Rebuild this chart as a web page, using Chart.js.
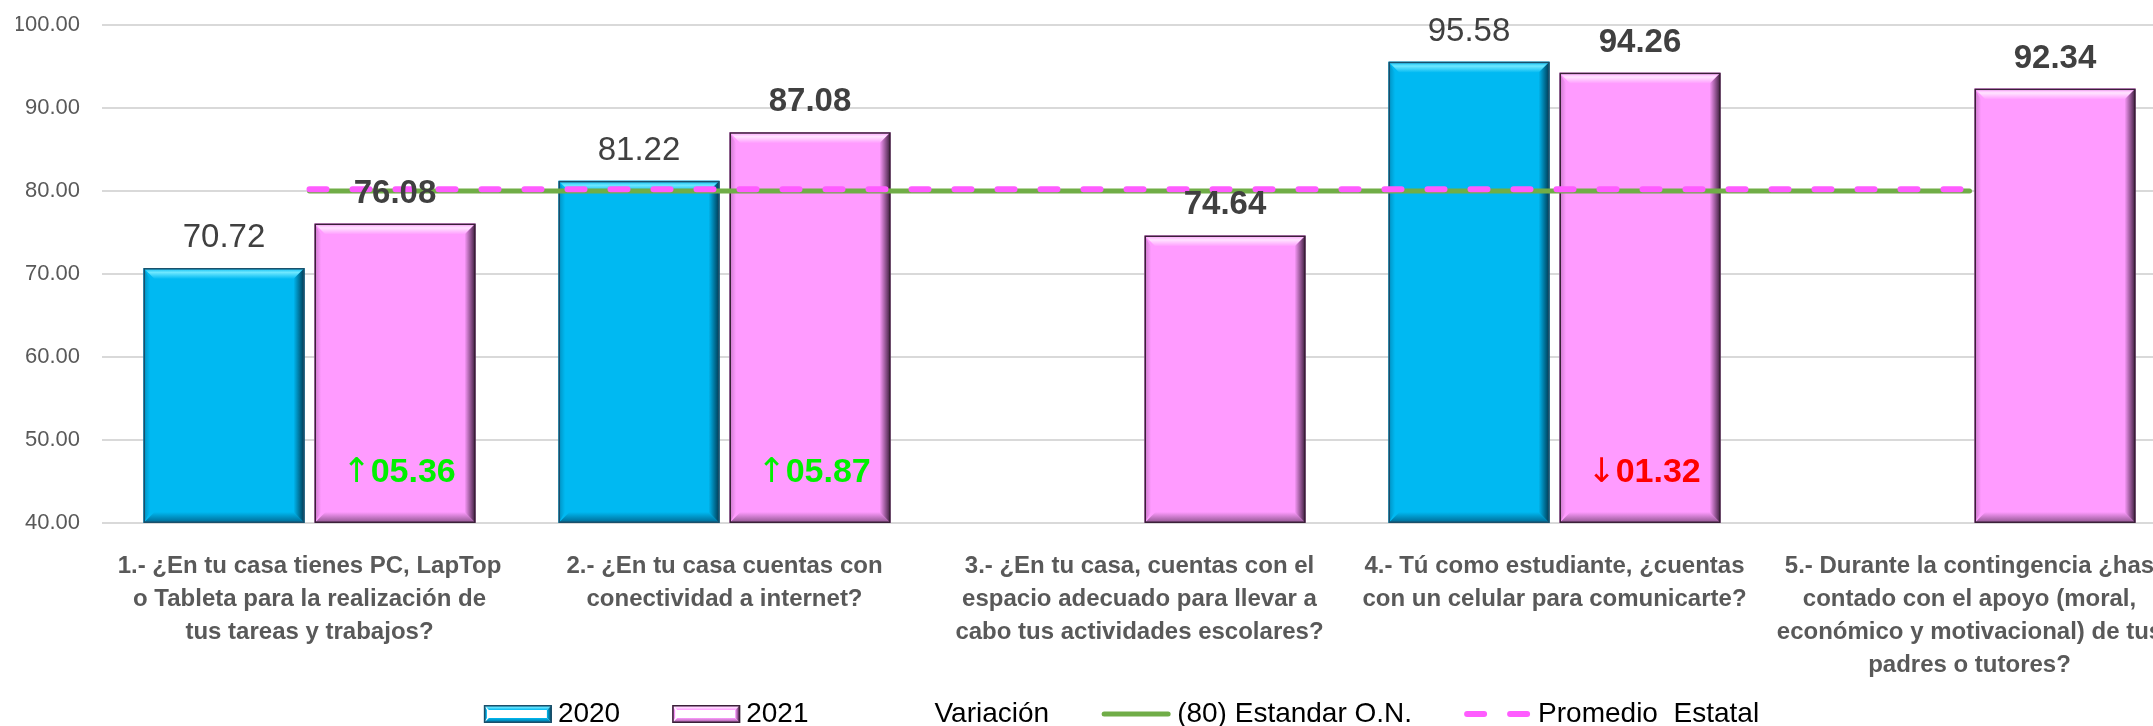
<!DOCTYPE html>
<html lang="es">
<head>
<meta charset="utf-8">
<title>Comparativo 2020 - 2021</title>
<script src="https://cdn.jsdelivr.net/npm/chart.js@4.4.1/dist/chart.umd.min.js"></script>
<style>
    html, body { margin: 0; padding: 0; background: #fff; overflow: hidden; }
    #grafica { display: block; }
</style>
</head>
<body>
<canvas id="grafica" width="2180" height="726"></canvas>
<script>
// --- datos ---
const categorias = [
    ["1.- ¿En tu casa tienes PC, LapTop", "o Tableta para la realización de", "tus tareas y trabajos?"],
    ["2.- ¿En tu casa cuentas con", "conectividad a internet?"],
    ["3.- ¿En tu casa, cuentas con el", "espacio adecuado para llevar a", "cabo tus actividades escolares?"],
    ["4.- Tú como estudiante, ¿cuentas", "con un celular para comunicarte?"],
    ["5.- Durante la contingencia ¿has", "contado con el apoyo (moral,", "económico y motivacional) de tus", "padres o tutores?"]
];
const valores2020 = [70.72, 81.22, null, 95.58, null];
const valores2021 = [76.08, 87.08, 74.64, 94.26, 92.34];
const variacion = [5.36, 5.87, null, -1.32, null];
const estandarON = [80, 80, 80, 80, 80];
const promedioEstatal = [80.2, 80.2, 80.2, 80.2, 80.2];
const nombresSeries = ["2020", "2021", "Variación", "(80) Estandar O.N.", "Promedio  Estatal"];
const ejeY = { min: 40, max: 100, paso: 10 };

const FUENTE = "'Liberation Sans', Arial, sans-serif";

const biseles = {
    azul: { face: "#00B9F2", light: "#6FE8FF", dark: "#00374F", bottom: "#00668F", left: "#0090C0", edge: "#1B4F6A" },
    rosa: { face: "#FF9BFF", light: "#FFE4FF", dark: "#3A1C3A", bottom: "#8A528A", left: "#C878C8", edge: "#3A2038" }
};

function dibujarBisel(ctx, l, t, r, b, est, bv) {
    const w = r - l, h = b - t;
    bv = Math.min(bv, h / 2, w / 2);
    ctx.save();

    let g = ctx.createLinearGradient(0, t, 0, t + bv);
    g.addColorStop(0, est.face);
    g.addColorStop(0.4, est.light);
    g.addColorStop(1, est.face);
    ctx.fillStyle = g;
    ctx.beginPath();
    ctx.moveTo(l, t); ctx.lineTo(r, t); ctx.lineTo(r - bv, t + bv); ctx.lineTo(l + bv, t + bv);
    ctx.closePath();
    ctx.fill();

    g = ctx.createLinearGradient(0, b - bv, 0, b);
    g.addColorStop(0, est.face);
    g.addColorStop(1, est.bottom);
    ctx.fillStyle = g;
    ctx.beginPath();
    ctx.moveTo(l, b); ctx.lineTo(r, b); ctx.lineTo(r - bv, b - bv); ctx.lineTo(l + bv, b - bv);
    ctx.closePath();
    ctx.fill();

    g = ctx.createLinearGradient(l, 0, l + bv * 0.6, 0);
    g.addColorStop(0, est.left);
    g.addColorStop(1, est.face);
    ctx.fillStyle = g;
    ctx.beginPath();
    ctx.moveTo(l, t); ctx.lineTo(l + bv * 0.6, t + bv); ctx.lineTo(l + bv * 0.6, b - bv); ctx.lineTo(l, b);
    ctx.closePath();
    ctx.fill();

    g = ctx.createLinearGradient(r - bv, 0, r, 0);
    g.addColorStop(0, est.face);
    g.addColorStop(1, est.dark);
    ctx.fillStyle = g;
    ctx.beginPath();
    ctx.moveTo(r, t); ctx.lineTo(r, b); ctx.lineTo(r - bv, b - bv); ctx.lineTo(r - bv, t + bv);
    ctx.closePath();
    ctx.fill();

    ctx.strokeStyle = est.edge;
    ctx.lineWidth = 1.5;
    ctx.strokeRect(l + 0.75, t + 0.75, w - 1.5, h - 1.5);
    ctx.restore();
}

// bisel estilo Excel sobre cada barra
const biselPlugin = {
    id: "bisel",
    afterDatasetDraw(chart, args) {
        const ds = chart.data.datasets[args.index];
        if (ds.type !== "bar")
            return;
        const est = ds.label === "2020" ? biseles.azul : biseles.rosa;
        const fondo = chart.chartArea.bottom;
        args.meta.data.forEach((bar, i) => {
            if (ds.data[i] == null)
                return;
            const p = bar.getProps(["x", "y", "base", "width"], true);
            dibujarBisel(chart.ctx, p.x - p.width / 2, p.y, p.x + p.width / 2, Math.min(p.base, fondo), est, 11);
        });
    }
};

// valores sobre las barras y flechas de variación
const etiquetasPlugin = {
    id: "etiquetas",
    afterDatasetsDraw(chart) {
        const ctx = chart.ctx;
        const fondo = chart.chartArea.bottom;
        ctx.save();
        ctx.textAlign = "center";
        ctx.textBaseline = "alphabetic";
        ctx.fillStyle = "#404040";

        [0, 1].forEach(idx => {
            const ds = chart.data.datasets[idx];
            ctx.font = (idx === 1 ? "bold " : "") + "33px " + FUENTE;
            chart.getDatasetMeta(idx).data.forEach((bar, i) => {
                if (ds.data[i] == null)
                    return;
                ctx.fillText(ds.data[i].toFixed(2), bar.x, bar.y - 21);
            });
        });

        // flecha con DejaVu (más visible) + cifra en negrita
        const fuenteFlecha = "34px 'DejaVu Sans', sans-serif";
        const fuenteCifra = "bold 34px " + FUENTE;
        ctx.textAlign = "left";
        ctx.textBaseline = "middle";
        chart.getDatasetMeta(1).data.forEach((bar, i) => {
            const v = variacion[i];
            if (v == null)
                return;
            const flecha = v >= 0 ? "\u2191" : "\u2193";
            const cifra = Math.abs(v).toFixed(2).padStart(5, "0");
            ctx.font = fuenteFlecha;
            const wf = ctx.measureText(flecha).width;
            ctx.font = fuenteCifra;
            const wc = ctx.measureText(cifra).width;
            const x0 = bar.x + 4 - (wf + wc) / 2;
            ctx.fillStyle = v >= 0 ? "#00F000" : "#FF0000";
            ctx.font = fuenteFlecha;
            ctx.fillText(flecha, x0, fondo - 50);
            ctx.font = fuenteCifra;
            ctx.fillText(cifra, x0 + wf, fondo - 50);
        });
        ctx.restore();
    }
};

// leyenda inferior
const leyendaPlugin = {
    id: "leyendaInferior",
    afterDraw(chart) {
        const ctx = chart.ctx;
        const items = [
            { tipo: "barra", est: biseles.azul, texto: nombresSeries[0], ancho: 68, sep: 6 },
            { tipo: "barra", est: biseles.rosa, texto: nombresSeries[1], ancho: 68, sep: 6 },
            { tipo: "nada", texto: nombresSeries[2], ancho: 68, sep: 6 },
            { tipo: "linea", ds: chart.data.datasets[2], texto: nombresSeries[3], ancho: 70, sep: 6 },
            { tipo: "linea", ds: chart.data.datasets[3], texto: nombresSeries[4], ancho: 66, sep: 8 }
        ];
        const hueco = 52;
        ctx.save();
        ctx.font = "28px " + FUENTE;
        let total = 0;
        items.forEach((it, i) => {
            it.w = ctx.measureText(it.texto).width;
            total += it.ancho + it.sep + it.w + (i ? hueco : 0);
        });
        const area = chart.chartArea;
        let x = (area.left + area.right) / 2 - 18 - total / 2;
        const yc = chart.height - 12;

        items.forEach(it => {
            if (it.tipo === "barra") {
                dibujarBisel(ctx, x, yc - 9, x + it.ancho, yc + 9, it.est, 5);
            } else if (it.tipo === "linea") {
                ctx.save();
                ctx.strokeStyle = it.ds.borderColor;
                ctx.lineWidth = it.ds.borderWidth;
                ctx.lineCap = "round";
                ctx.setLineDash(it.ds.borderDash || []);
                ctx.beginPath();
                ctx.moveTo(x + 3, yc);
                ctx.lineTo(x + it.ancho - 3, yc);
                ctx.stroke();
                ctx.restore();
            }
            x += it.ancho + it.sep;
            ctx.fillStyle = "#000";
            ctx.textAlign = "left";
            ctx.textBaseline = "middle";
            ctx.fillText(it.texto, x, yc);
            x += it.w + hueco;
        });
        ctx.restore();
    }
};

const ctx = document.getElementById("grafica").getContext("2d");

new Chart(ctx, {
    data: {
        labels: categorias,
        datasets: [
            {
                type: "bar",
                label: nombresSeries[0],
                data: valores2020,
                backgroundColor: biseles.azul.face,
                borderWidth: 0,
                categoryPercentage: 0.824,
                barPercentage: 0.9415,
                order: 3,
            },
            {
                type: "bar",
                label: nombresSeries[1],
                data: valores2021,
                backgroundColor: biseles.rosa.face,
                borderWidth: 0,
                categoryPercentage: 0.824,
                barPercentage: 0.9415,
                order: 3,
            },
            {
                type: "line",
                label: nombresSeries[3],
                data: estandarON,
                borderColor: "#70AD47",
                borderWidth: 5,
                borderCapStyle: "round",
                pointRadius: 0,
                fill: false,
                order: 2,
            },
            {
                type: "line",
                label: nombresSeries[4],
                data: promedioEstatal,
                borderColor: "#FF5CFF",
                borderWidth: 6,
                borderDash: [17, 26],
                borderCapStyle: "round",
                pointRadius: 0,
                fill: false,
                order: 1,
            }
        ]
    },
    options: {
        responsive: false,
        devicePixelRatio: 1,
        animation: false,
        events: [],
        layout: {
            autoPadding: false,
            padding: { top: 25, left: 16, right: 3, bottom: 47 },
        },
        plugins: {
            legend: { display: false },
            tooltip: { enabled: false },
        },
        scales: {
            x: {
                grid: { display: false, drawTicks: false },
                border: { display: false },
                ticks: {
                    color: "#595959",
                    font: { family: FUENTE, size: 24, weight: "bold", lineHeight: 1.375 },
                    padding: 27,
                    maxRotation: 0,
                    autoSkip: false,
                },
                afterFit: (scale) => {
                    scale.height = 156;
                    scale.paddingLeft = 0;
                    scale.paddingRight = 0;
                },
            },
            y: {
                min: ejeY.min,
                max: ejeY.max,
                grid: { color: "#D9D9D9", lineWidth: 2, drawTicks: false },
                border: { display: false },
                ticks: {
                    stepSize: ejeY.paso,
                    color: "#595959",
                    font: { family: FUENTE, size: 22 },
                    padding: 22,
                    callback: (v) => Number(v).toFixed(2),
                },
                afterFit: (scale) => {
                    scale.width = 86;
                    scale.paddingTop = 0;
                    scale.paddingBottom = 0;
                },
            }
        }
    },
    plugins: [biselPlugin, etiquetasPlugin, leyendaPlugin],
});
</script>
</body>
</html>
